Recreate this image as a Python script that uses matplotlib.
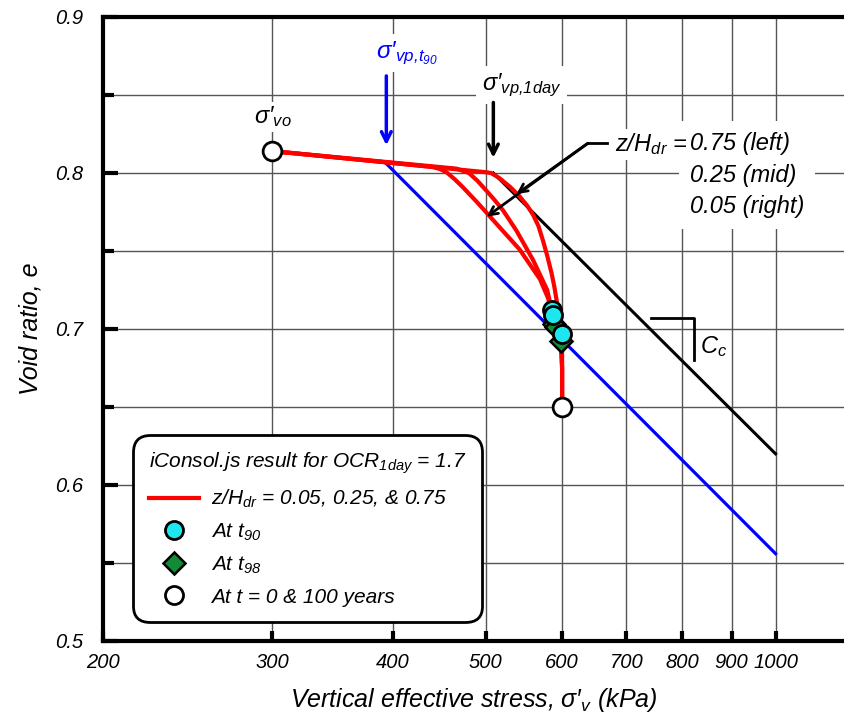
import matplotlib
matplotlib.use("Agg")
import matplotlib.pyplot as plt
from matplotlib.lines import Line2D
from matplotlib.ticker import MultipleLocator, NullLocator

plt.rcParams["font.family"] = ["Liberation Sans", "DejaVu Sans"]
plt.rcParams["font.style"] = "italic"
plt.rcParams["mathtext.fontset"] = "custom"
plt.rcParams["mathtext.rm"] = "Liberation Sans:italic"
plt.rcParams["mathtext.it"] = "Liberation Sans:italic"
plt.rcParams["mathtext.sf"] = "Liberation Sans"
plt.rcParams["mathtext.default"] = "it"

# ---- data ----
x_ticks = [200, 300, 400, 500, 600, 700, 800, 900, 1000]
y_ticks = [0.5, 0.6, 0.7, 0.8, 0.9]

# three red curves (z/Hdr = 0.75 left, 0.25 mid, 0.05 right)
left_x = [300, 440, 448, 455, 464, 473, 489, 500, 517, 542, 569, 580, 585, 590, 596, 599, 600, 600]
left_e = [0.814, 0.8039, 0.8025, 0.8005, 0.796, 0.791, 0.7816, 0.775, 0.765, 0.751, 0.732, 0.720,
          0.712, 0.704, 0.695, 0.688, 0.675, 0.650]
mid_x = [300, 466, 480, 490, 500, 510, 521, 538, 560, 579, 587, 593, 598, 600, 600]
mid_e = [0.814, 0.8028, 0.800, 0.795, 0.789, 0.783, 0.776, 0.763, 0.744, 0.725, 0.709, 0.701,
         0.693, 0.675, 0.650]
right_x = [300, 500, 506, 511, 517, 530, 542, 552, 560, 567, 573, 579, 585, 589, 592, 596, 599.5,
           600, 600]
right_e = [0.814, 0.8005, 0.8000, 0.7985, 0.7965, 0.791, 0.785, 0.779, 0.773, 0.766, 0.757, 0.747,
           0.736, 0.727, 0.719, 0.708, 0.697, 0.685, 0.650]

t90_x = [585, 587, 599.5]
t90_e = [0.712, 0.709, 0.697]
t98_x = [589, 592, 599]
t98_e = [0.703, 0.701, 0.692]
end_x = [300, 600]
end_e = [0.814, 0.650]

ncl_t90_x = [394, 1000]
ncl_t90_e = [0.806, 0.556]
ncl_1day_x = [509, 1000]
ncl_1day_e = [0.800, 0.620]

fig = plt.figure(figsize=(8.44, 7.22), dpi=100)
ax = fig.add_axes([103 / 844, 81 / 722, 1 - 103 / 844, 624 / 722])
ax.set_xscale("log")
ax.set_xlim(200, 1178)
ax.set_ylim(0.5, 0.9)
ax.set_axisbelow(True)

ax.set_xticks(x_ticks)
ax.set_xticklabels([str(v) for v in x_ticks])
ax.xaxis.set_minor_locator(NullLocator())
ax.yaxis.set_major_locator(MultipleLocator(0.1))
ax.yaxis.set_minor_locator(MultipleLocator(0.05))
ax.set_yticks(y_ticks)
ax.set_yticklabels(["%.1f" % v for v in y_ticks])
ax.grid(True, which="major", axis="x", color="#555555", lw=1.0)
ax.grid(True, which="both", axis="y", color="#555555", lw=1.0)

ax.tick_params(axis="both", which="both", direction="in", width=3, labelsize=14.5)
ax.tick_params(axis="x", which="major", length=7, pad=9)
ax.tick_params(axis="y", which="major", length=11, pad=14)
ax.tick_params(axis="y", which="minor", length=8)
for s in ["left", "bottom", "top"]:
    ax.spines[s].set_linewidth(3)
ax.spines["right"].set_visible(False)

# lines
ax.plot(ncl_t90_x, ncl_t90_e, color="#0000ff", lw=2.3, zorder=3)
ax.plot(ncl_1day_x, ncl_1day_e, color="black", lw=2.2, zorder=3)
for cx, ce in [(left_x, left_e), (mid_x, mid_e), (right_x, right_e)]:
    ax.plot(cx, ce, color="#ff0000", lw=3, zorder=4, solid_joinstyle="round")

ax.plot(t98_x, t98_e, ls="none", marker="D", ms=11, mfc="#138a36", mec="black", mew=1.8, zorder=5)
ax.plot(t90_x, t90_e, ls="none", marker="o", ms=13, mfc="#1ee6ee", mec="black", mew=2, zorder=6)
ax.plot(end_x, end_e, ls="none", marker="o", ms=13.5, mfc="white", mec="black", mew=2, zorder=6)

# labels and arrows
sig = "\\mathsf{\\sigma\u2032}"
ax.text(300, 0.836, "$" + sig + "_{vo}$", fontsize=17, ha="center", va="center",
        bbox=dict(fc="white", ec="none", pad=2), zorder=7)
ax.text(413.5, 0.877, "$" + sig + "_{vp{,}t_{90}}$", fontsize=17.5, color="#0000ff",
        ha="center", va="center", bbox=dict(fc="white", ec="none", pad=4), zorder=7)
ax.annotate("", xy=(394, 0.816), xytext=(394, 0.864),
            arrowprops=dict(arrowstyle="->,head_length=0.7,head_width=0.35", color="#0000ff", lw=2.5),
            zorder=8)
ax.text(544.8, 0.8564, "$" + sig + "_{vp{,}1day}$", fontsize=17, ha="center", va="center",
        bbox=dict(fc="white", ec="none", pad=4), zorder=7)
ax.annotate("", xy=(509, 0.808), xytext=(509, 0.847),
            arrowprops=dict(arrowstyle="->,head_length=0.7,head_width=0.35", color="black", lw=2.5),
            zorder=8)

ax.text(814.6, 0.7987, "0.75 (left)\n0.25 (mid)\n0.05 (right)", fontsize=17, ha="left",
        va="center", linespacing=1.45, bbox=dict(fc="white", ec="none", pad=8), zorder=7)
ax.text(680.6, 0.8138, r"z/H$_{dr}$ =", fontsize=17, ha="left", va="baseline",
        bbox=dict(fc="white", ec="none", pad=2), zorder=7)
ax.plot([638, 668], [0.819, 0.819], color="black", lw=2, zorder=8)
ax.annotate("", xy=(501, 0.772), xytext=(638, 0.819),
            arrowprops=dict(arrowstyle="->,head_length=0.6,head_width=0.3", color="black", lw=2,
                            shrinkA=0, shrinkB=0), zorder=8)
ax.annotate("", xy=(538, 0.7865), xytext=(638, 0.819),
            arrowprops=dict(arrowstyle="->,head_length=0.6,head_width=0.3", color="black", lw=2,
                            shrinkA=0, shrinkB=0), zorder=8)

# Cc slope marker
ax.plot([743, 822.5, 822.5], [0.7069, 0.7069, 0.680], color="black", lw=2, zorder=3)
ax.text(863, 0.6885, r"$C_c$", fontsize=17, ha="center", va="center", zorder=7)

ax.set_xlabel("Vertical effective stress, $" + sig + "_v$ (kPa)", fontsize=18, labelpad=10)
ax.set_ylabel("Void ratio, e", fontsize=18, labelpad=9)

handles = [
    Line2D([], [], color="#ff0000", lw=3),
    Line2D([], [], ls="none", marker="o", ms=13, mfc="#1ee6ee", mec="black", mew=2),
    Line2D([], [], ls="none", marker="D", ms=11, mfc="#138a36", mec="black", mew=1.8),
    Line2D([], [], ls="none", marker="o", ms=13, mfc="white", mec="black", mew=2),
]
labels = [r"z/H$_{dr}$ = 0.05, 0.25, & 0.75", r"At t$_{90}$", r"At t$_{98}$", "At t = 0 & 100 years"]
leg = ax.legend(handles, labels, title=r"iConsol.js result for OCR$_{1day}$ = 1.7",
                title_fontsize=15, fontsize=15, alignment="left", loc="upper left",
                bbox_to_anchor=(133 / 844, 1 - 435 / 722), bbox_transform=fig.transFigure,
                borderaxespad=0, borderpad=0.75, handlelength=2.4, handletextpad=0.6,
                labelspacing=0.56, frameon=True, fancybox=True, framealpha=1)
leg.get_frame().set_edgecolor("black")
leg.get_frame().set_linewidth(2)
leg.get_frame().set_boxstyle("round,pad=0,rounding_size=0.8")
leg.set_zorder(10)

fig.savefig("out.png", dpi=100)
